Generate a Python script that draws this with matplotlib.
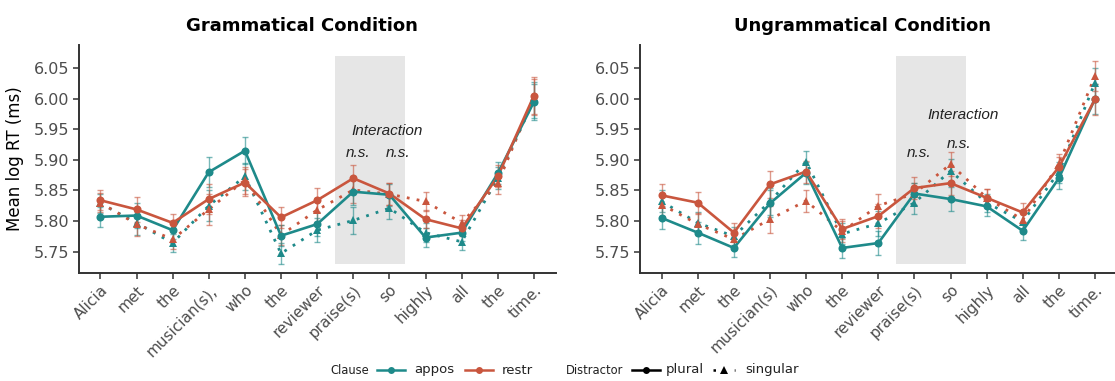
import matplotlib
matplotlib.use("Agg")
import matplotlib.pyplot as plt
from matplotlib.lines import Line2D
from matplotlib.patches import Rectangle

# ---------------- data ----------------
words_g = ["Alicia", "met", "the", "musician(s),", "who", "the", "reviewer",
           "praise(s)", "so", "highly", "all", "the", "time."]
words_u = ["Alicia", "met", "the", "musician(s)", "who", "the", "reviewer",
           "praise(s)", "so", "highly", "all", "the", "time."]

# Grammatical condition
appos_plural_g = [5.807, 5.809, 5.785, 5.880, 5.915, 5.776, 5.795, 5.848, 5.843, 5.773, 5.781, 5.878, 5.995]
restr_plural_g = [5.834, 5.819, 5.797, 5.836, 5.863, 5.806, 5.834, 5.870, 5.845, 5.803, 5.788, 5.873, 6.005]
appos_singular_g = [5.829, 5.797, 5.764, 5.825, 5.873, 5.747, 5.785, 5.801, 5.821, 5.781, 5.766, 5.870, 5.998]
restr_singular_g = [5.830, 5.795, 5.770, 5.819, 5.867, 5.777, 5.818, 5.851, 5.844, 5.832, 5.797, 5.862, 6.003]
se_g = [0.016, 0.020, 0.015, 0.025, 0.022, 0.017, 0.020, 0.022, 0.018, 0.015, 0.013, 0.018, 0.030]

# Ungrammatical condition
appos_plural_u = [5.805, 5.781, 5.756, 5.829, 5.879, 5.756, 5.764, 5.845, 5.836, 5.824, 5.784, 5.870, 6.000]
restr_plural_u = [5.842, 5.830, 5.781, 5.860, 5.881, 5.787, 5.808, 5.854, 5.862, 5.838, 5.814, 5.888, 5.999]
appos_singular_u = [5.832, 5.797, 5.775, 5.832, 5.897, 5.779, 5.796, 5.830, 5.882, 5.830, 5.799, 5.880, 6.026]
restr_singular_u = [5.827, 5.795, 5.770, 5.803, 5.833, 5.783, 5.825, 5.845, 5.893, 5.838, 5.802, 5.893, 6.037]
se_u = [0.018, 0.018, 0.015, 0.022, 0.018, 0.017, 0.020, 0.018, 0.020, 0.015, 0.015, 0.017, 0.025]

yticks = [5.75, 5.80, 5.85, 5.90, 5.95, 6.00, 6.05]

# ---------------- style ----------------
TEAL = "#1E8A8A"
RED = "#C9563E"
GRAY_TXT = "#4D4D4D"
AX_COL = "#333333"
W, H = 1115, 381

fig = plt.figure(figsize=(W / 100, H / 100), dpi=100)
plt.rcParams['font.family'] = ['DejaVu Sans']

ax_bottom = 1 - 273 / H
ax_h = 228 / H
axL = fig.add_axes([78.7 / W, ax_bottom, 476.9 / W, ax_h])
axR = fig.add_axes([640 / W, ax_bottom, 476.6 / W, ax_h])


def draw_panel(ax, words, ap, rp, asg, rsg, se, show_ylabel):
    x = list(range(len(words)))
    ax.add_patch(Rectangle((6.5, 5.73), 1.92, 0.34, facecolor="#E6E6E6",
                           edgecolor="none", zorder=0))
    series = [
        (asg, TEAL, (0, (1, 2.6)), "^", 6.2),
        (rsg, RED, (0, (1, 2.6)), "^", 6.2),
        (ap, TEAL, "-", "o", 5.8),
        (rp, RED, "-", "o", 5.8),
    ]
    for vals, col, ls, mk, ms in series:
        ax.errorbar(x, vals, yerr=se, fmt="none", ecolor=col, elinewidth=1.0,
                    capsize=2.5, capthick=1.0, alpha=0.6, zorder=2)
        ax.plot(x, vals, color=col, linestyle=ls, linewidth=1.9 if ls == "-" else 2.0,
                zorder=3)
        ax.plot(x, vals, linestyle="none", marker=mk, markersize=ms, color=col,
                markeredgewidth=0, zorder=4)
    ax.set_xlim(-0.6, 12.6)
    ax.set_ylim(5.715, 6.088)
    ax.set_xticks(x)
    ax.set_xticklabels(words, rotation=45, ha="right", rotation_mode="anchor",
                       fontsize=11, color=GRAY_TXT)
    ax.set_yticks(yticks)
    ax.set_yticklabels([f"{v:.2f}" for v in yticks], fontsize=11.5, color=GRAY_TXT)
    for s in ["top", "right"]:
        ax.spines[s].set_visible(False)
    for s in ["left", "bottom"]:
        ax.spines[s].set_color(AX_COL)
        ax.spines[s].set_linewidth(1.4)
    ax.tick_params(axis="both", length=4, width=1.1, color=AX_COL, pad=3)
    if show_ylabel:
        ax.set_ylabel("Mean log RT (ms)", fontsize=12, color="black", labelpad=7)


draw_panel(axL, words_g, appos_plural_g, restr_plural_g, appos_singular_g,
           restr_singular_g, se_g, True)
draw_panel(axR, words_u, appos_plural_u, restr_plural_u, appos_singular_u,
           restr_singular_u, se_u, False)

# annotations
ifont = dict(family="Liberation Sans", style="italic", fontsize=11, color="#222222",
             ha="center", va="center")
axL.text(7.94, 5.947, "Interaction", **ifont)
axL.text(7.13, 5.912, "n.s.", **ifont)
axL.text(8.24, 5.912, "n.s.", **ifont)
axR.text(8.35, 5.973, "Interaction", **ifont)
axR.text(7.13, 5.912, "n.s.", **ifont)
axR.text(8.23, 5.926, "n.s.", **ifont)

# titles
fig.text(302 / W, 1 - 31 / H, "Grammatical Condition", fontsize=13, fontweight="bold",
         ha="center", va="baseline")
fig.text(863 / W, 1 - 31 / H, "Ungrammatical Condition", fontsize=13, fontweight="bold",
         ha="center", va="baseline")

# legend (manual, ggplot-like horizontal)
ly = 1 - 370 / H


def leg_key(x0, x1, col, ls, mk, ms):
    fig.add_artist(Line2D([x0 / W, x1 / W], [ly, ly], color=col, linestyle=ls,
                          linewidth=1.8, transform=fig.transFigure))
    fig.add_artist(Line2D([(x0 + x1) / 2 / W], [ly], marker=mk, markersize=ms,
                          color=col, markeredgewidth=0, linestyle="none",
                          transform=fig.transFigure))


lab = dict(color="#222222", va="center", ha="left")
fig.text(330 / W, ly, "Clause", fontsize=8.3, **lab)
leg_key(377, 405, TEAL, "-", "o", 5)
fig.text(414 / W, ly, "appos", fontsize=9.5, **lab)
leg_key(465, 493, RED, "-", "o", 5)
fig.text(502 / W, ly, "restr", fontsize=9.5, **lab)
fig.text(566 / W, ly, "Distractor", fontsize=8.3, **lab)
leg_key(632, 660, "black", "-", "o", 5)
fig.text(666 / W, ly, "plural", fontsize=9.5, **lab)
leg_key(713, 735, "black", (0, (1, 7.5)), "^", 5.5)
fig.text(745 / W, ly, "singular", fontsize=9.5, **lab)

fig.savefig("out.png", dpi=100)
